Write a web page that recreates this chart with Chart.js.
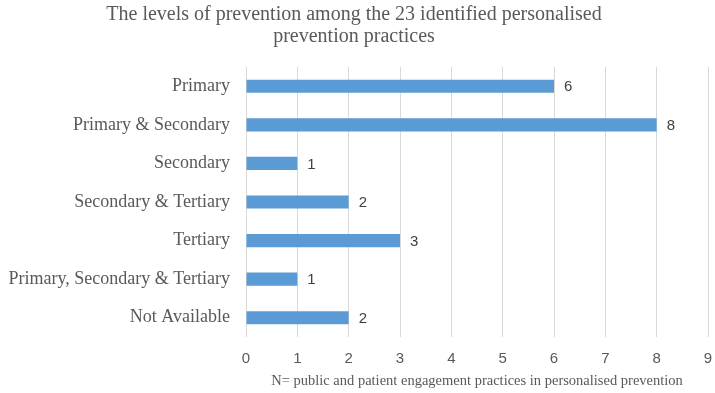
<!DOCTYPE html>
<html>
<head>
<meta charset="utf-8">
<script src="https://cdn.jsdelivr.net/npm/chart.js@4"></script>
<style>
  html, body { margin: 0; padding: 0; background: #ffffff; }
  #wrap { width: 715px; height: 393px; }
</style>
</head>
<body>
<div id="wrap"><canvas id="levelsChart" width="715" height="393"></canvas></div>
<script>
const categories = [
  "Primary",
  "Primary & Secondary",
  "Secondary",
  "Secondary & Tertiary",
  "Tertiary",
  "Primary, Secondary & Tertiary",
  "Not Available",
];
const practiceCounts = [6, 8, 1, 2, 3, 1, 2];
const titleLines = [
  "The levels of prevention among the 23 identified personalised",
  "prevention practices",
];
const axisTitle = "N= public and patient engagement practices in personalised prevention";

// draws the value next to each bar end
const valueLabels = {
  id: "valueLabels",
  afterDatasetsDraw: (chart) => {
    const { ctx } = chart;
    const meta = chart.getDatasetMeta(0);
    ctx.save();
    ctx.fillStyle = "#404040";
    ctx.font = "15px 'Liberation Sans', sans-serif";
    ctx.textAlign = "left";
    ctx.textBaseline = "middle";
    meta.data.forEach((bar, i) => {
      ctx.fillText(String(practiceCounts[i]), bar.x + 10, bar.y + 1);
    });
    ctx.restore();
  },
};

const ctx = document.getElementById("levelsChart").getContext("2d");
const chart = new Chart(ctx, {
  type: "bar",
  data: {
    labels: categories,
    datasets: [
      {
        data: practiceCounts,
        backgroundColor: "#5B9BD5",
        borderWidth: 0,
        categoryPercentage: 0.34,
        barPercentage: 1,
      },
    ],
  },
  options: {
    indexAxis: "y",
    responsive: false,
    animation: false,
    layout: { padding: { left: 0, right: 7, top: 0, bottom: 0 } },
    scales: {
      x: {
        min: 0,
        max: 9,
        ticks: {
          stepSize: 1,
          color: "#595959",
          font: { family: "'Liberation Sans', sans-serif", size: 15 },
          padding: 13,
        },
        grid: { color: "#d9d9d9", drawTicks: false },
        border: { display: false },
        title: {
          display: true,
          text: axisTitle,
          color: "#595959",
          font: { family: "'Liberation Serif', serif", size: 14.5 },
          padding: { top: 2, bottom: 3.5 },
        },
        afterFit: (scale) => {
          scale.height = 56;
          scale.paddingLeft = 0;
          scale.paddingRight = 0;
        },
      },
      y: {
        ticks: {
          color: "#595959",
          font: { family: "'Liberation Serif', serif", size: 18 },
          padding: 16,
        },
        grid: { display: false, drawTicks: false },
        border: { display: false },
        afterFit: (scale) => {
          scale.width = 246;
        },
      },
    },
    plugins: {
      legend: { display: false },
      tooltip: { enabled: false },
      title: {
        display: true,
        text: titleLines,
        color: "#595959",
        font: { family: "'Liberation Serif', serif", size: 20, weight: "normal", lineHeight: 1.1 },
        padding: { top: 4, bottom: 19 },
      },
    },
  },
  plugins: [valueLabels],
});
</script>
</body>
</html>
